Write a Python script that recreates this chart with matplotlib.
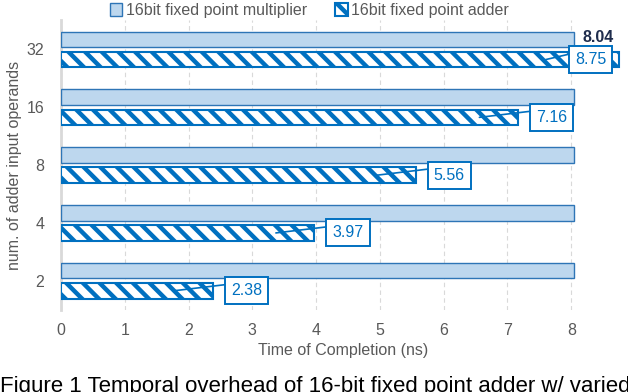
import matplotlib.pyplot as plt
import numpy as np

plt.rcParams['font.family'] = ['Liberation Sans', 'DejaVu Sans']
plt.rcParams['hatch.linewidth'] = 3.2

# data
operands = ['2', '4', '8', '16', '32']
multiplier = [8.04, 8.04, 8.04, 8.04, 8.04]
adder = [2.38, 3.97, 5.56, 7.16, 8.75]

blue = '#0070C0'
grey = '#595959'
fs = 11.5

fig = plt.figure(figsize=(6.28, 3.92), dpi=100)
ax = fig.add_axes([0.097, 0.209, 0.899, 0.74])

y = np.arange(len(operands))
h = 0.27
ax.barh(y + 0.175, multiplier, height=h, color='#BDD7EE', edgecolor='#2E75B6',
        linewidth=1.0, label='16bit fixed point multiplier', zorder=3)
ax.barh(y - 0.175, adder, height=h, color='white', edgecolor=blue, hatch='\\\\',
        linewidth=1.5, label='16bit fixed point adder', zorder=3)

ax.set_xlim(0, 8.85)
ax.set_ylim(-0.51, 4.51)
ax.set_yticks(y)
ax.set_yticklabels(operands)
ax.set_xticks(range(0, 9))
ax.tick_params(axis='both', length=0, labelsize=fs, labelcolor=grey)
ax.tick_params(axis='y', pad=12)
ax.tick_params(axis='x', pad=9)
ax.grid(axis='x', color='#D9D9D9', linestyle=(0, (4, 3)), linewidth=0.8, zorder=0)
for s in ['top', 'right', 'bottom']:
    ax.spines[s].set_visible(False)
ax.spines['left'].set_color('#D9D9D9')
ax.spines['left'].set_linewidth(2)

ax.set_xlabel('Time of Completion (ns)', fontsize=fs, color=grey, labelpad=4)
ax.set_ylabel('num. of adder input operands', fontsize=fs, color=grey, labelpad=3)

# bold label for the multiplier value
ax.text(multiplier[-1] + 0.14, y[-1] + 0.2, '%.2f' % multiplier[-1], fontsize=fs,
        fontweight='bold', color='#1F2D4D', va='center', ha='left', zorder=5)

# callouts for adder values
for i, v in enumerate(adder):
    yc = y[i] - 0.175
    if v > 8.5:
        tx, px = v - 0.45, v - 1.15
    else:
        tx, px = v + 0.53, v - 0.6
    ax.annotate('%.2f' % v, xy=(px, yc), xytext=(tx, yc), fontsize=fs, color=blue,
                ha='center', va='center', zorder=6,
                bbox=dict(boxstyle='square,pad=0.38', fc='white', ec=blue, lw=1.4),
                arrowprops=dict(arrowstyle='-', color=blue, lw=1.2, relpos=(0, 0.95),
                                shrinkA=0, shrinkB=0))

ax.legend(loc='lower center', bbox_to_anchor=(0.44, 0.985), ncol=2, frameon=False,
          fontsize=fs, labelcolor=grey, handlelength=0.8, handleheight=0.8,
          handletextpad=0.2, columnspacing=1.8, borderaxespad=0)

fig.text(0.0, 1 - 376 / 392, 'Figure 1 Temporal overhead of 16-bit fixed point adder w/ varied',
         fontsize=16, color='black', ha='left', va='top')

fig.savefig('out.png', dpi=100)
